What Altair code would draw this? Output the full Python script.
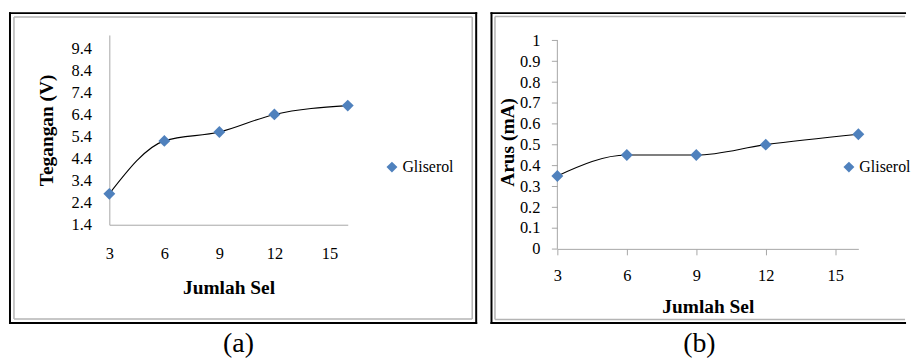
import altair as alt
import pandas as pd

# ---------------- data ----------------
jumlah_sel = [3, 6, 9, 12, 16]
tegangan = [2.8, 5.2, 5.6, 6.4, 6.8]
arus = [0.35, 0.45, 0.45, 0.50, 0.55]
series_name = "Gliserol"

x_ticks = [3, 6, 9, 12, 15]
y_ticks_a = [1.4, 2.4, 3.4, 4.4, 5.4, 6.4, 7.4, 8.4, 9.4]
y_ticks_b = [0, 0.1, 0.2, 0.3, 0.4, 0.5, 0.6, 0.7, 0.8, 0.9, 1]

x_title = "Jumlah Sel"
y_title_a = "Tegangan (V)"
y_title_b = "Arus (mA)"
captions = ["(a)", "(b)"]

FONT = "Liberation Serif, Times New Roman, serif"
BLUE = "#4F81BD"
AXIS_GRAY = "#a6a6a6"
FRAME_GRAY = "#b4b4b4"
LABEL_SIZE = 16.5
LEGEND_SIZE = 16
TITLE_SIZE = 19.5

df_a = pd.DataFrame({"x": jumlah_sel, "y": tegangan, "s": series_name})
df_b = pd.DataFrame({"x": jumlah_sel, "y": arus, "s": series_name})
# vertical value-axis line of panel (b): from the first to the last tick value
df_axis_b = pd.DataFrame({"x": [x_ticks[0], x_ticks[0]], "y": [y_ticks_b[0], y_ticks_b[-1]]})
one = pd.DataFrame({"k": [0]})


def x_enc(ticks, lab_pad, title_pad):
    return alt.X(
        "x:Q",
        scale=alt.Scale(domain=[3, 16], nice=False, zero=False),
        axis=alt.Axis(
            values=x_ticks, title=x_title, grid=False,
            ticks=ticks, tickSize=6 if ticks else 0, tickColor=AXIS_GRAY,
            domainColor=AXIS_GRAY, labelFont=FONT, labelFontSize=LABEL_SIZE,
            labelColor="black", labelPadding=lab_pad, labelFlush=False,
            labelOverlap=False, titleFont=FONT, titleFontSize=TITLE_SIZE,
            titleFontWeight="bold", titleColor="black", titlePadding=title_pad,
        ),
    )


def y_enc(domain, values, fmt, title, ticks, lab_pad, title_pad, domain_line=True):
    return alt.Y(
        "y:Q",
        scale=alt.Scale(domain=domain, nice=False, zero=False),
        axis=alt.Axis(
            values=values, format=fmt, title=title, grid=False, domain=domain_line,
            ticks=ticks, tickSize=6 if ticks else 0, tickColor=AXIS_GRAY,
            domainColor=AXIS_GRAY, labelFont=FONT, labelFontSize=LABEL_SIZE,
            labelColor="black", labelPadding=lab_pad, labelFlush=False,
            labelOverlap=False, titleFont=FONT, titleFontSize=TITLE_SIZE,
            titleFontWeight="bold", titleColor="black", titlePadding=title_pad,
        ),
    )


def color_enc(lx, ly):
    return alt.Color(
        "s:N",
        scale=alt.Scale(range=[BLUE]),
        legend=alt.Legend(
            orient="none", legendX=lx, legendY=ly, title=None,
            labelFont=FONT, labelFontSize=LEGEND_SIZE, labelColor="black",
            symbolType="diamond", symbolSize=121, symbolStrokeWidth=0,
            labelOffset=2.5, padding=0,
        ),
    )


def caption(text, cx, cy):
    return alt.Chart(pd.DataFrame({"t": [text]})).mark_text(
        font=FONT, fontSize=28, align="center", baseline="alphabetic", color="black"
    ).encode(x=alt.value(cx), y=alt.value(cy), text="t:N")


def frame(left, top, bottom, right, inset, close_right):
    layers = []
    black = dict(color="black", strokeWidth=2, strokeCap="square")
    gray = dict(color=FRAME_GRAY, strokeWidth=1.5)
    for style, d in ((black, 0), (gray, inset)):
        l, t, b = left + d, top + d, bottom - d
        r = right - d if close_right else right
        layers.append(alt.Chart(one).mark_rule(**style).encode(
            x=alt.value(l), y=alt.value(t), y2=alt.value(b)))
        layers.append(alt.Chart(one).mark_rule(**style).encode(
            x=alt.value(l), x2=alt.value(r), y=alt.value(t)))
        layers.append(alt.Chart(one).mark_rule(**style).encode(
            x=alt.value(l), x2=alt.value(r), y=alt.value(b)))
        if close_right:
            layers.append(alt.Chart(one).mark_rule(**style).encode(
                x=alt.value(r), y=alt.value(t), y2=alt.value(b)))
    return layers


# ---------------- panel (a) ----------------
WA, HA = 240, 191
xa = x_enc(False, 20.8, 16.8)
ya = y_enc([1.4, 10], y_ticks_a, ".1f", y_title_a, False, 18, 15)

line_a = alt.Chart(df_a).mark_line(interpolate="monotone", color="black", strokeWidth=1.1).encode(x=xa, y=ya)
pts_a = alt.Chart(df_a).mark_point(shape="diamond", filled=True, size=144, opacity=1).encode(
    x=xa, y=ya, color=color_enc(276.5, 125)
)
panel_a = alt.layer(
    *frame(-100, -22, 290, 369.3, 4, True), line_a, pts_a, caption(captions[0], 130, 319)
).properties(width=WA, height=HA)

# ---------------- panel (b) ----------------
# plot top shares the same row origin as panel (a); the value axis spans 0..1
WB, HB = 303, 215.3
B_TOP = 1.0262
xb = x_enc(True, 12.8, 13.3)
yb = y_enc([0, B_TOP], y_ticks_b, "~g", y_title_b, True, 11.6, 1.5, domain_line=False)

axis_line_b = alt.Chart(df_axis_b).mark_line(color=AXIS_GRAY, strokeWidth=1).encode(x=xb, y=yb)
line_b = alt.Chart(df_b).mark_line(interpolate="monotone", color="black", strokeWidth=1.1).encode(x=xb, y=yb)
pts_b = alt.Chart(df_b).mark_point(shape="diamond", filled=True, size=144, opacity=1).encode(
    x=xb, y=yb, color=color_enc(285.5, 125)
)
panel_b = alt.layer(
    *frame(-66.3, -22, 290, 350, 3.5, False), axis_line_b, line_b, pts_b,
    caption(captions[1], 143, 319)
).properties(width=WB, height=HB)

chart = (
    alt.hconcat(panel_a, panel_b, spacing=12)
    .resolve_scale(color="independent")
    .properties(padding={"left": 0, "top": 2, "right": 0, "bottom": 0})
    .configure(font=FONT)
    .configure_view(stroke=None)
)

chart.save("out.html", embed_options={"renderer": "svg", "actions": False})
